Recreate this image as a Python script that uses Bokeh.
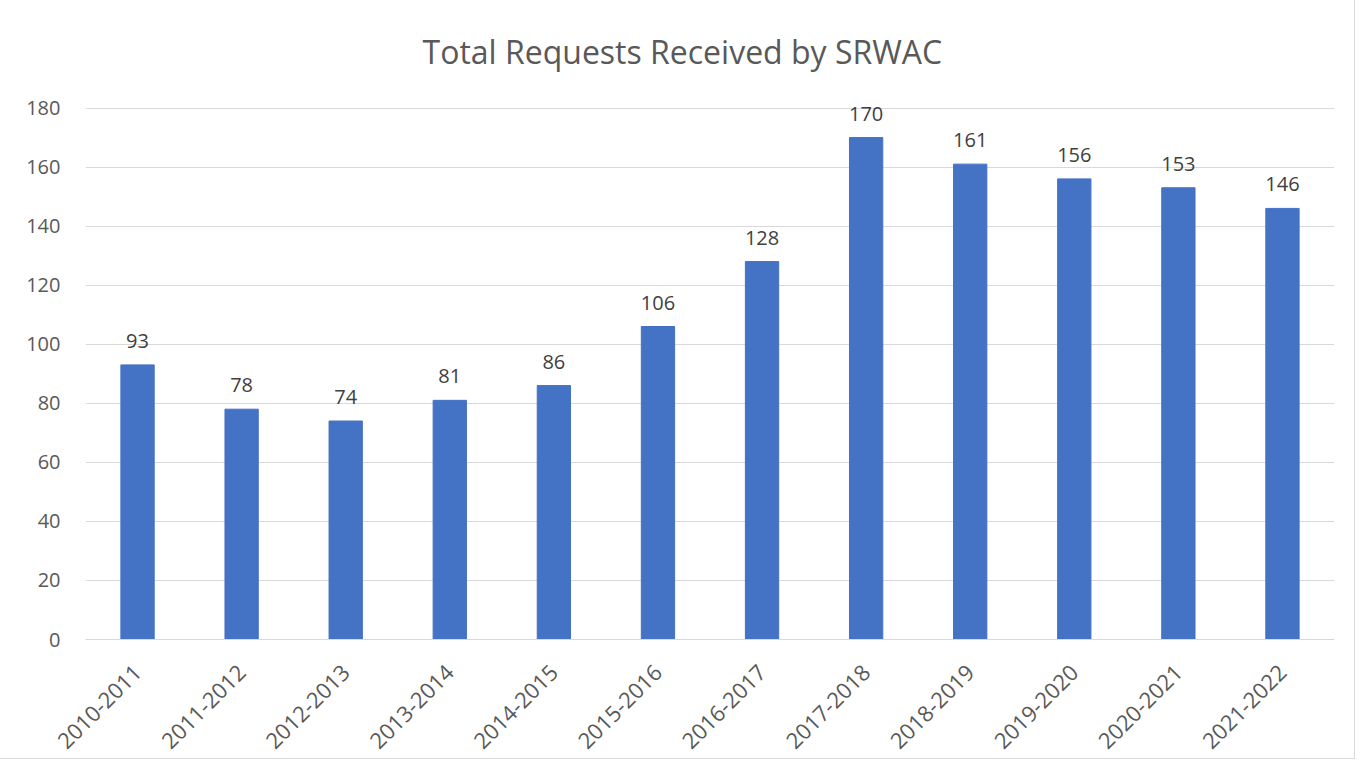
from bokeh.plotting import figure
from bokeh.models import ColumnDataSource, FixedTicker, Range1d, LabelSet
from bokeh.core.properties import value
from bokeh.embed import file_html
from bokeh.resources import INLINE
import math

years = ["2010-2011", "2011-2012", "2012-2013", "2013-2014", "2014-2015", "2015-2016",
         "2016-2017", "2017-2018", "2018-2019", "2019-2020", "2020-2021", "2021-2022"]
requests = [93, 78, 74, 81, 86, 106, 128, 170, 161, 156, 153, 146]
y_ticks = [0, 20, 40, 60, 80, 100, 120, 140, 160, 180]

FONT = "Open Sans"
src = ColumnDataSource(dict(x=years, y=requests, lab=[str(v) for v in requests]))

p = figure(x_range=years, y_range=Range1d(0, 190), width=1354, height=758,
           output_backend="svg", toolbar_location=None,
           min_border_left=85, min_border_right=20, min_border_top=78, min_border_bottom=119,
           title="Total Requests Received by SRWAC")
p.styles = {"outline": "1px solid #d9d9d9"}
p.outline_line_color = None
p.x_range.range_padding = 0

p.title.align = "left"
p.title.offset = 337
p.title.text_font = FONT
p.title.text_font_size = "32px"
p.title.text_font_style = "normal"
p.title.text_color = "#595959"
p.title.standoff = 12

p.vbar(x="x", top="y", width=0.32, source=src, color="#4472C4")

labels = LabelSet(x="x", y="y", text="lab", source=src, text_align="center",
                  text_baseline="bottom", y_offset=17, text_font_size="20px",
                  text_color="#404040", text_font=value(FONT))
p.add_layout(labels)

p.yaxis.ticker = FixedTicker(ticks=y_ticks)
p.yaxis.axis_line_color = None
p.yaxis.major_tick_line_color = None
p.yaxis.minor_tick_line_color = None
p.yaxis.major_label_standoff = 19
p.yaxis.major_label_text_font = FONT
p.yaxis.major_label_text_font_size = "20px"
p.yaxis.major_label_text_color = "#595959"

p.xaxis.axis_line_color = "#d9d9d9"
p.xaxis.axis_line_width = 1
p.xaxis.major_tick_line_color = None
p.xaxis.minor_tick_line_color = None
p.xaxis.major_label_orientation = math.pi / 4
p.xaxis.major_label_standoff = 23
p.xaxis.major_label_text_font = FONT
p.xaxis.major_label_text_font_size = "22px"
p.xaxis.major_label_text_color = "#595959"

p.xgrid.grid_line_color = None
p.ygrid.grid_line_color = "#d9d9d9"
p.ygrid.grid_line_width = 1

open("out.html", "w").write(file_html(p, INLINE))
